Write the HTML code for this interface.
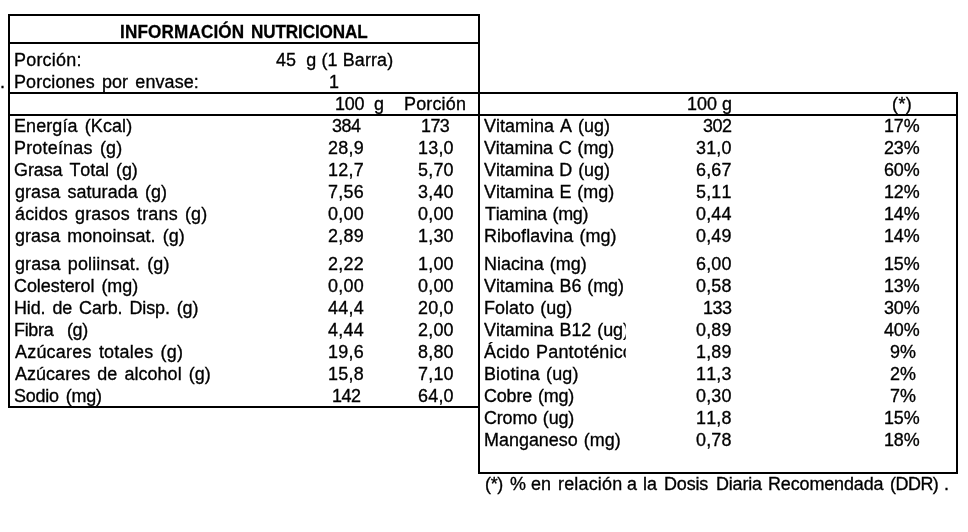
<!DOCTYPE html>
<html lang="es">
<head>
<meta charset="utf-8">
<title>Información Nutricional</title>
<style>
html,body{margin:0;padding:0;background:#fff;}
body{width:968px;height:532px;position:relative;overflow:hidden;font-family:"Liberation Sans", Arial, Helvetica, sans-serif;color:#000;}
.t{transform:scaleX(1.02);transform-origin:0 0;position:absolute;display:block;white-space:pre;font-size:17.6px;line-height:20px;font-weight:400;font-kerning:none;font-variant-ligatures:none;-webkit-text-stroke:0.32px #000;}
.b{transform:scaleX(0.93);font-weight:700;font-size:18.4px;-webkit-text-stroke:0.3px #000;}
.ln{position:absolute;display:block;background:#000;}
</style>
</head>
<body>
<i class="ln" style="left:8px;top:14px;width:472px;height:2px"></i>
<i class="ln" style="left:8px;top:42px;width:472px;height:2px"></i>
<i class="ln" style="left:8px;top:92px;width:950px;height:2px"></i>
<i class="ln" style="left:8px;top:114px;width:950px;height:2px"></i>
<i class="ln" style="left:8px;top:406px;width:472px;height:2px"></i>
<i class="ln" style="left:478px;top:472px;width:480px;height:2px"></i>
<i class="ln" style="left:8px;top:14px;width:2px;height:394px"></i>
<i class="ln" style="left:478px;top:14px;width:2px;height:460px"></i>
<i class="ln" style="left:956px;top:92px;width:2px;height:382px"></i>
<span class="t b" style="left:119.86px;top:22.00px;letter-spacing:0.169px;">INFORMACIÓN</span>
<span class="t b" style="left:250.66px;top:22.00px;letter-spacing:-0.129px;">NUTRICIONAL</span>
<span class="t" style="left:14.13px;top:50.00px;letter-spacing:0.218px;">Porción:</span>
<span class="t" style="left:276.49px;top:50.00px;letter-spacing:0.104px;">45  g (1 Barra)</span>
<span class="t" style="left:14.13px;top:72.00px;letter-spacing:0.108px;word-spacing:2.00px;">Porciones por envase:</span>
<span class="t" style="left:329.21px;top:72.00px;">1</span>
<span class="t" style="left:335.03px;top:94.00px;letter-spacing:-0.194px;">100  g</span>
<span class="t" style="left:403.93px;top:94.00px;letter-spacing:0.175px;">Porción</span>
<span class="t" style="left:14.13px;top:116.00px;letter-spacing:0.106px;word-spacing:2.00px;">Energía (Kcal)</span>
<span class="t" style="left:332.42px;top:116.00px;letter-spacing:-0.462px;">384</span>
<span class="t" style="left:420.83px;top:116.00px;letter-spacing:-0.537px;">173</span>
<span class="t" style="left:14.13px;top:138.00px;letter-spacing:0.202px;word-spacing:2.00px;">Proteínas (g)</span>
<span class="t" style="left:327.88px;top:138.00px;letter-spacing:0.251px;">28,9</span>
<span class="t" style="left:418.22px;top:138.00px;letter-spacing:0.211px;">13,0</span>
<span class="t" style="left:14.20px;top:160.00px;letter-spacing:-0.068px;word-spacing:2.00px;">Grasa Total (g)</span>
<span class="t" style="left:327.88px;top:160.00px;letter-spacing:0.251px;">12,7</span>
<span class="t" style="left:418.22px;top:160.00px;letter-spacing:0.211px;">5,70</span>
<span class="t" style="left:14.55px;top:182.00px;letter-spacing:0.075px;word-spacing:2.00px;">grasa saturada (g)</span>
<span class="t" style="left:327.88px;top:182.00px;letter-spacing:0.251px;">7,56</span>
<span class="t" style="left:418.22px;top:182.00px;letter-spacing:0.211px;">3,40</span>
<span class="t" style="left:14.54px;top:204.00px;letter-spacing:0.159px;word-spacing:2.00px;">ácidos grasos trans (g)</span>
<span class="t" style="left:327.88px;top:204.00px;letter-spacing:0.251px;">0,00</span>
<span class="t" style="left:418.22px;top:204.00px;letter-spacing:0.211px;">0,00</span>
<span class="t" style="left:14.55px;top:226.00px;letter-spacing:0.059px;word-spacing:2.00px;">grasa monoinsat. (g)</span>
<span class="t" style="left:327.88px;top:226.00px;letter-spacing:0.251px;">2,89</span>
<span class="t" style="left:418.22px;top:226.00px;letter-spacing:0.211px;">1,30</span>
<span class="t" style="left:14.55px;top:254.00px;letter-spacing:0.140px;word-spacing:2.00px;">grasa poliinsat. (g)</span>
<span class="t" style="left:327.88px;top:254.00px;letter-spacing:0.251px;">2,22</span>
<span class="t" style="left:418.22px;top:254.00px;letter-spacing:0.211px;">1,00</span>
<span class="t" style="left:13.79px;top:276.00px;letter-spacing:-0.036px;word-spacing:2.00px;">Colesterol (mg)</span>
<span class="t" style="left:327.88px;top:276.00px;letter-spacing:0.251px;">0,00</span>
<span class="t" style="left:418.22px;top:276.00px;letter-spacing:0.211px;">0,00</span>
<span class="t" style="left:14.13px;top:298.00px;letter-spacing:-0.101px;word-spacing:2.00px;">Hid. de Carb. Disp. (g)</span>
<span class="t" style="left:327.88px;top:298.00px;letter-spacing:0.251px;">44,4</span>
<span class="t" style="left:418.22px;top:298.00px;letter-spacing:0.211px;">20,0</span>
<span class="t" style="left:14.13px;top:320.00px;letter-spacing:-0.284px;word-spacing:2.00px;">Fibra  (g)</span>
<span class="t" style="left:327.88px;top:320.00px;letter-spacing:0.251px;">4,44</span>
<span class="t" style="left:418.22px;top:320.00px;letter-spacing:0.211px;">2,00</span>
<span class="t" style="left:14.66px;top:342.00px;letter-spacing:0.223px;word-spacing:2.00px;">Azúcares totales (g)</span>
<span class="t" style="left:327.88px;top:342.00px;letter-spacing:0.251px;">19,6</span>
<span class="t" style="left:418.22px;top:342.00px;letter-spacing:0.211px;">8,80</span>
<span class="t" style="left:14.66px;top:364.00px;letter-spacing:0.051px;word-spacing:2.00px;">Azúcares de alcohol (g)</span>
<span class="t" style="left:327.88px;top:364.00px;letter-spacing:0.251px;">15,8</span>
<span class="t" style="left:418.22px;top:364.00px;letter-spacing:0.211px;">7,10</span>
<span class="t" style="left:14.48px;top:386.00px;letter-spacing:-0.197px;word-spacing:2.00px;">Sodio (mg)</span>
<span class="t" style="left:332.42px;top:386.00px;letter-spacing:-0.462px;">142</span>
<span class="t" style="left:418.22px;top:386.00px;letter-spacing:0.211px;">64,0</span>
<span class="t" style="left:687.13px;top:94.00px;">100 g</span>
<span class="t" style="left:892.09px;top:94.00px;letter-spacing:0.433px;">(*)</span>
<span class="t" style="left:484.32px;top:116.00px;letter-spacing:0.016px;word-spacing:1.00px;">Vitamina A (ug)</span>
<span class="t" style="left:702.62px;top:116.00px;letter-spacing:-0.473px;">302</span>
<span class="t" style="left:884.10px;top:116.00px;letter-spacing:-0.141px;">17%</span>
<span class="t" style="left:484.32px;top:138.00px;letter-spacing:-0.107px;word-spacing:1.00px;">Vitamina C (mg)</span>
<span class="t" style="left:696.12px;top:138.00px;letter-spacing:0.178px;">31,0</span>
<span class="t" style="left:884.10px;top:138.00px;letter-spacing:-0.141px;">23%</span>
<span class="t" style="left:484.32px;top:160.00px;letter-spacing:-0.053px;word-spacing:1.00px;">Vitamina D (ug)</span>
<span class="t" style="left:696.12px;top:160.00px;letter-spacing:0.178px;">6,67</span>
<span class="t" style="left:884.10px;top:160.00px;letter-spacing:-0.141px;">60%</span>
<span class="t" style="left:484.32px;top:182.00px;letter-spacing:-0.038px;word-spacing:1.00px;">Vitamina E (mg)</span>
<span class="t" style="left:696.12px;top:182.00px;letter-spacing:0.178px;">5,11</span>
<span class="t" style="left:884.10px;top:182.00px;letter-spacing:-0.141px;">12%</span>
<span class="t" style="left:484.50px;top:204.00px;letter-spacing:-0.288px;word-spacing:1.00px;">Tiamina (mg)</span>
<span class="t" style="left:696.12px;top:204.00px;letter-spacing:0.178px;">0,44</span>
<span class="t" style="left:884.10px;top:204.00px;letter-spacing:-0.141px;">14%</span>
<span class="t" style="left:484.03px;top:226.00px;letter-spacing:0.050px;word-spacing:1.00px;">Riboflavina (mg)</span>
<span class="t" style="left:696.12px;top:226.00px;letter-spacing:0.178px;">0,49</span>
<span class="t" style="left:884.10px;top:226.00px;letter-spacing:-0.141px;">14%</span>
<span class="t" style="left:484.03px;top:254.00px;letter-spacing:-0.008px;word-spacing:1.00px;">Niacina (mg)</span>
<span class="t" style="left:696.12px;top:254.00px;letter-spacing:0.178px;">6,00</span>
<span class="t" style="left:884.10px;top:254.00px;letter-spacing:-0.141px;">15%</span>
<span class="t" style="left:484.32px;top:276.00px;letter-spacing:-0.041px;word-spacing:1.00px;">Vitamina B6 (mg)</span>
<span class="t" style="left:696.12px;top:276.00px;letter-spacing:0.178px;">0,58</span>
<span class="t" style="left:884.10px;top:276.00px;letter-spacing:-0.141px;">13%</span>
<span class="t" style="left:484.03px;top:298.00px;letter-spacing:0.045px;word-spacing:1.00px;">Folato (ug)</span>
<span class="t" style="left:702.62px;top:298.00px;letter-spacing:-0.473px;">133</span>
<span class="t" style="left:884.10px;top:298.00px;letter-spacing:-0.141px;">30%</span>
<span class="t" style="left:484.32px;top:320.00px;letter-spacing:-0.039px;word-spacing:1.00px;width:138.90px;overflow:hidden;">Vitamina B12 (ug)</span>
<span class="t" style="left:696.12px;top:320.00px;letter-spacing:0.178px;">0,89</span>
<span class="t" style="left:884.10px;top:320.00px;letter-spacing:-0.141px;">40%</span>
<span class="t" style="left:484.36px;top:342.00px;letter-spacing:0.192px;word-spacing:1.00px;width:138.86px;overflow:hidden;">Ácido Pantoténico (mg)</span>
<span class="t" style="left:696.12px;top:342.00px;letter-spacing:0.178px;">1,89</span>
<span class="t" style="left:889.53px;top:342.00px;">9%</span>
<span class="t" style="left:484.03px;top:364.00px;letter-spacing:0.148px;word-spacing:1.00px;">Biotina (ug)</span>
<span class="t" style="left:696.12px;top:364.00px;letter-spacing:0.178px;">11,3</span>
<span class="t" style="left:889.53px;top:364.00px;">2%</span>
<span class="t" style="left:483.99px;top:386.00px;letter-spacing:-0.160px;word-spacing:1.00px;">Cobre (mg)</span>
<span class="t" style="left:696.12px;top:386.00px;letter-spacing:0.178px;">0,30</span>
<span class="t" style="left:889.53px;top:386.00px;">7%</span>
<span class="t" style="left:483.99px;top:408.00px;letter-spacing:-0.160px;word-spacing:1.00px;">Cromo (ug)</span>
<span class="t" style="left:696.12px;top:408.00px;letter-spacing:0.178px;">11,8</span>
<span class="t" style="left:884.10px;top:408.00px;letter-spacing:-0.141px;">15%</span>
<span class="t" style="left:484.03px;top:430.00px;word-spacing:1.00px;">Manganeso (mg)</span>
<span class="t" style="left:696.12px;top:430.00px;letter-spacing:0.178px;">0,78</span>
<span class="t" style="left:884.10px;top:430.00px;letter-spacing:-0.141px;">18%</span>
<span class="t" style="left:484.99px;top:474.00px;letter-spacing:-0.302px;">(*)</span>
<span class="t" style="left:510.42px;top:474.00px;">%</span>
<span class="t" style="left:531.47px;top:474.00px;">en</span>
<span class="t" style="left:557.61px;top:474.00px;letter-spacing:0.181px;">relación</span>
<span class="t" style="left:627.23px;top:474.00px;">a</span>
<span class="t" style="left:643.36px;top:474.00px;">la</span>
<span class="t" style="left:663.53px;top:474.00px;letter-spacing:-0.139px;">Dosis</span>
<span class="t" style="left:715.53px;top:474.00px;letter-spacing:-0.160px;">Diaria</span>
<span class="t" style="left:767.93px;top:474.00px;letter-spacing:-0.117px;">Recomendada</span>
<span class="t" style="left:890.29px;top:474.00px;letter-spacing:-0.496px;">(DDR)</span>
<span class="t" style="left:943.66px;top:474.00px;">.</span>
<span class="t" style="left:0.01px;top:72.00px;">.</span>
</body>
</html>
